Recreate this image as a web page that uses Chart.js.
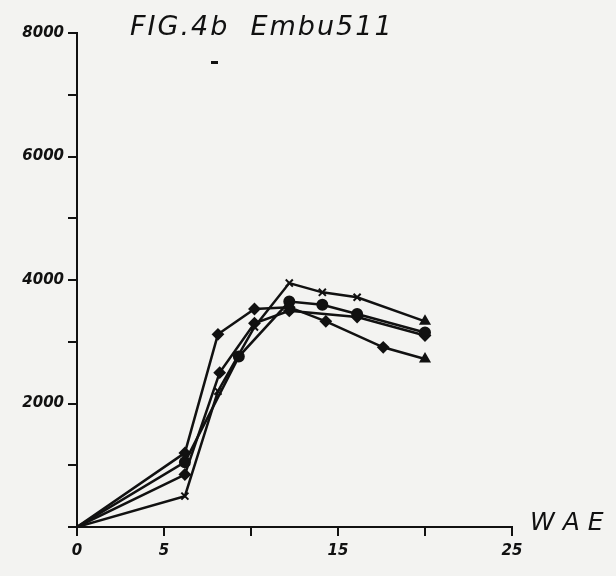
<!DOCTYPE html>
<html>
<head>
<meta charset="utf-8">
<script src="https://cdn.jsdelivr.net/npm/chart.js@4.4.1/dist/chart.umd.min.js"></script>
<style>
  html, body { margin: 0; padding: 0; background: #f3f3f1; }
  #wrap { width: 616px; height: 576px; position: relative; }
</style>
</head>
<body>
<div id="wrap"><canvas id="figChart" width="616" height="576"></canvas></div>
<script>
// Weeks after emergence (x) and dry matter (y), one pair per curve
const weeksA = [0, 6.2, 8.1, 10.2, 12.2, 14.3, 17.6, 20];
const yieldA = [0, 1200, 3120, 3530, 3560, 3330, 2910, 2720];

const weeksB = [0, 6.2, 8.1, 10.2, 12.2, 14.1, 16.1, 20];
const yieldB = [0, 500, 2200, 3240, 3950, 3800, 3720, 3330];

const weeksC = [0, 6.2, 9.3, 12.2, 14.1, 16.1, 20];
const yieldC = [0, 1050, 2760, 3650, 3600, 3450, 3150];

const weeksD = [0, 6.2, 8.2, 10.2, 12.2, 16.1, 20];
const yieldD = [0, 850, 2500, 3300, 3500, 3400, 3100];

// Tick labels that are actually printed on the axes
const xTickLabels = [0, 5, 15, 25];
const yTickLabels = [2000, 4000, 6000, 8000];

const figTitle = 'FIG.4b  Embu511';
const xAxisName = 'W A E';

const ink = '#111';

function toPoints(xs, ys) {
    return xs.map((x, i) => ({ x: x, y: ys[i] }));
}

function lineSet(xs, ys, marker, lastMarker) {
    const n = xs.length;
    return {
        data: toPoints(xs, ys),
        borderColor: ink,
        backgroundColor: ink,
        borderWidth: 2.5,
        tension: 0,
        pointStyle: xs.map((x, i) => (i === 0 ? false : (i === n - 1 ? lastMarker : marker))),
        pointRadius: xs.map((x, i) => (i === 0 ? 0 : 5)),
        pointBorderWidth: 2,
    };
}

// Draws the figure caption and the x axis name as text on the canvas
const captionPlugin = {
    id: 'caption',
    afterDraw(chart) {
        const ctx = chart.ctx;
        ctx.save();
        ctx.fillStyle = ink;
        ctx.textBaseline = 'middle';
        ctx.textAlign = 'left';
        ctx.letterSpacing = '2px';
        ctx.font = 'italic 27px "DejaVu Sans"';
        ctx.fillText(figTitle, 130, 28);
        ctx.letterSpacing = '0px';
        ctx.font = 'italic 25px "DejaVu Sans"';
        ctx.fillText(xAxisName, 530, 523);
        // small stray dash under the caption in the scan
        ctx.fillRect(211, 61, 7, 3);
        ctx.restore();
    }
};

const figCtx = document.getElementById('figChart').getContext('2d');
const figChart = new Chart(figCtx, {
    type: 'line',
    data: {
        datasets: [
            lineSet(weeksA, yieldA, 'rectRot', 'triangle'),
            lineSet(weeksB, yieldB, 'crossRot', 'triangle'),
            lineSet(weeksC, yieldC, 'circle', 'circle'),
            lineSet(weeksD, yieldD, 'rectRot', 'rectRot'),
        ],
    },
    options: {
        responsive: false,
        animation: false,
        layout: { padding: { left: 0, right: 104, top: 33, bottom: 0 } },
        plugins: {
            legend: { display: false },
            title: { display: false },
            tooltip: { enabled: false },
        },
        scales: {
            x: {
                type: 'linear',
                min: 0,
                max: 25,
                afterFit: (scale) => { scale.height = 49; },
                border: { display: true, color: ink, width: 2 },
                grid: { display: true, drawOnChartArea: false, drawTicks: true, tickLength: 9, color: ink, lineWidth: 2 },
                ticks: {
                    stepSize: 5,
                    color: ink,
                    padding: 6,
                    font: { family: 'DejaVu Sans', size: 15, style: 'italic', weight: 'bold' },
                    callback: (v) => (xTickLabels.includes(v) ? String(v) : ''),
                },
            },
            y: {
                min: 0,
                max: 8000,
                afterFit: (scale) => { scale.width = 77; },
                border: { display: true, color: ink, width: 2 },
                grid: { display: true, drawOnChartArea: false, drawTicks: true, tickLength: 9, color: ink, lineWidth: 2 },
                ticks: {
                    stepSize: 1000,
                    color: ink,
                    padding: 4,
                    font: { family: 'DejaVu Sans', size: 15, style: 'italic', weight: 'bold' },
                    callback: (v) => (yTickLabels.includes(v) ? String(v) : ''),
                },
            },
        },
    },
    plugins: [captionPlugin],
});
</script>
</body>
</html>
